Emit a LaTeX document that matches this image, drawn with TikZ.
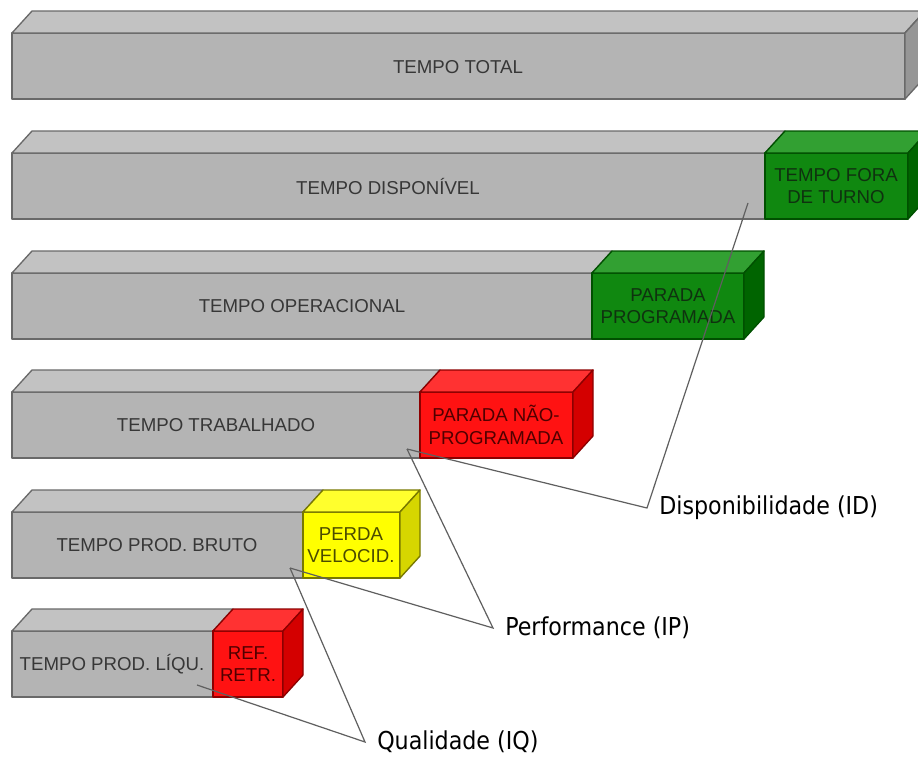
\documentclass[tikz,border=0pt]{standalone}
\usepackage{fontspec}
\setmainfont{Liberation Sans}
\newfontfamily\calloutfont{DejaVu Sans Condensed}
\usepackage{xcolor}
\usepackage{tikz}
\definecolor{OEEGrayFront}{RGB}{180, 180, 180}
\definecolor{OEEGrayTop}{RGB}{194, 194, 194}
\definecolor{OEEGraySide}{RGB}{150, 150, 150}
\definecolor{OEEGrayEdge}{RGB}{105, 105, 105}
\definecolor{OEEGrayText}{RGB}{55, 55, 55}
\definecolor{OEEGreenFront}{RGB}{16, 136, 16}
\definecolor{OEEGreenTop}{RGB}{50, 160, 50}
\definecolor{OEEGreenSide}{RGB}{0, 100, 0}
\definecolor{OEEGreenEdge}{RGB}{0, 80, 0}
\definecolor{OEEGreenText}{RGB}{15, 50, 15}
\definecolor{OEERedFront}{RGB}{255, 18, 18}
\definecolor{OEERedTop}{RGB}{255, 50, 50}
\definecolor{OEERedSide}{RGB}{212, 0, 0}
\definecolor{OEERedEdge}{RGB}{140, 0, 0}
\definecolor{OEERedText}{RGB}{80, 0, 0}
\definecolor{OEEYellowFront}{RGB}{255, 255, 0}
\definecolor{OEEYellowTop}{RGB}{255, 255, 45}
\definecolor{OEEYellowSide}{RGB}{214, 214, 0}
\definecolor{OEEYellowEdge}{RGB}{120, 120, 0}
\definecolor{OEEYellowText}{RGB}{75, 75, 0}
\definecolor{OEEPointer}{RGB}{95, 95, 95}

\tikzset{
  grayfront/.style={fill=OEEGrayFront, draw=OEEGrayEdge, line width=1pt, line join=round},
  graytop/.style={fill=OEEGrayTop, draw=OEEGrayEdge, line width=1pt, line join=round},
  grayside/.style={fill=OEEGraySide, draw=OEEGrayEdge, line width=1pt, line join=round},
  greenfront/.style={fill=OEEGreenFront, draw=OEEGreenEdge, line width=1pt, line join=round},
  greentop/.style={fill=OEEGreenTop, draw=OEEGreenEdge, line width=1pt, line join=round},
  greenside/.style={fill=OEEGreenSide, draw=OEEGreenEdge, line width=1pt, line join=round},
  redfront/.style={fill=OEERedFront, draw=OEERedEdge, line width=1pt, line join=round},
  redtop/.style={fill=OEERedTop, draw=OEERedEdge, line width=1pt, line join=round},
  redside/.style={fill=OEERedSide, draw=OEERedEdge, line width=1pt, line join=round},
  yellowfront/.style={fill=OEEYellowFront, draw=OEEYellowEdge, line width=1pt, line join=round},
  yellowtop/.style={fill=OEEYellowTop, draw=OEEYellowEdge, line width=1pt, line join=round},
  yellowside/.style={fill=OEEYellowSide, draw=OEEYellowEdge, line width=1pt, line join=round},
  barlabel/.style={font=\fontsize{14}{17}\selectfont, align=center, inner sep=0pt},
  indexlabel/.style={font=\calloutfont\fontsize{18.5}{22}\selectfont, anchor=west, inner xsep=9pt, inner ysep=0pt},
  pointer/.style={draw=OEEPointer, line width=0.9pt, line join=miter}
}

% front top (px row), end of gray part, end of loss block, loss colour
\newcommand{\timebar}[4]{%
  \filldraw[grayfront] (12,#1) rectangle (#2,#1+66);
  \filldraw[graytop] (12,#1) -- (32,#1-22) -- (#2+20,#1-22) -- (#2,#1) -- cycle;
  \filldraw[#4front] (#2,#1) rectangle (#3,#1+66);
  \filldraw[#4top] (#2,#1) -- (#2+20,#1-22) -- (#3+20,#1-22) -- (#3,#1) -- cycle;
  \filldraw[#4side] (#3,#1) -- (#3+20,#1-22) -- (#3+20,#1+44) -- (#3,#1+66) -- cycle;
}

\begin{document}
\begin{tikzpicture}[x=0.75pt,y=-0.75pt]
  \path[use as bounding box] (0,0) rectangle (918,760);
  \fill[white] (0,0) rectangle (918,760);
  \clip (0,0) rectangle (918,760);

  % the six time bars
  \timebar{33}{905}{905}{gray}
  \timebar{153}{765}{908}{green}
  \timebar{273}{592}{744}{green}
  \timebar{392}{420}{573}{red}
  \timebar{512}{303}{400}{yellow}
  \timebar{631}{213}{283}{red}

  \node[barlabel, text=OEEGrayText] (total) at (458,67) {TEMPO TOTAL};
  \node[barlabel, text=OEEGrayText] (disp) at (388,186) {TEMPO DISPONÍVEL};
  \node[barlabel, text=OEEGrayText] (oper) at (302,306) {TEMPO OPERACIONAL};
  \node[barlabel, text=OEEGrayText] (trab) at (216,425) {TEMPO TRABALHADO};
  \node[barlabel, text=OEEGrayText] (bruto) at (157,545) {TEMPO PROD. BRUTO};
  \node[barlabel, text=OEEGrayText] (liqu) at (112,664) {TEMPO PROD. LÍQU.};

  \node[barlabel, text=OEEGreenText] (fora) at (836,186) {TEMPO FORA\\DE TURNO};
  \node[barlabel, text=OEEGreenText] (prog) at (668,306) {PARADA\\PROGRAMADA};
  \node[barlabel, text=OEERedText] (naoprog) at (496,425) {PARADA NÃO-\\PROGRAMADA};
  \node[barlabel, text=OEEYellowText] (veloc) at (351,545) {PERDA\\VELOCID.};
  \node[barlabel, text=OEERedText] (refretr) at (248,664) {REF.\\RETR.};

  % index callouts
  \coordinate (ptDisp) at (748,203);
  \coordinate (ptTrab) at (407,449);
  \coordinate (ptBruto) at (290,568);
  \coordinate (ptLiqu) at (197,685);

  \node[indexlabel] (idlbl) at (647,508) {Disponibilidade (ID)};
  \node[indexlabel] (iplbl) at (493,628) {Performance (IP)};
  \node[indexlabel] (iqlbl) at (365,742) {Qualidade (IQ)};

  \draw[pointer] (ptDisp) -- (idlbl.west) -- (ptTrab);
  \draw[pointer] (ptTrab) -- (iplbl.west) -- (ptBruto);
  \draw[pointer] (ptBruto) -- (iqlbl.west) -- (ptLiqu);
\end{tikzpicture}
\end{document}
